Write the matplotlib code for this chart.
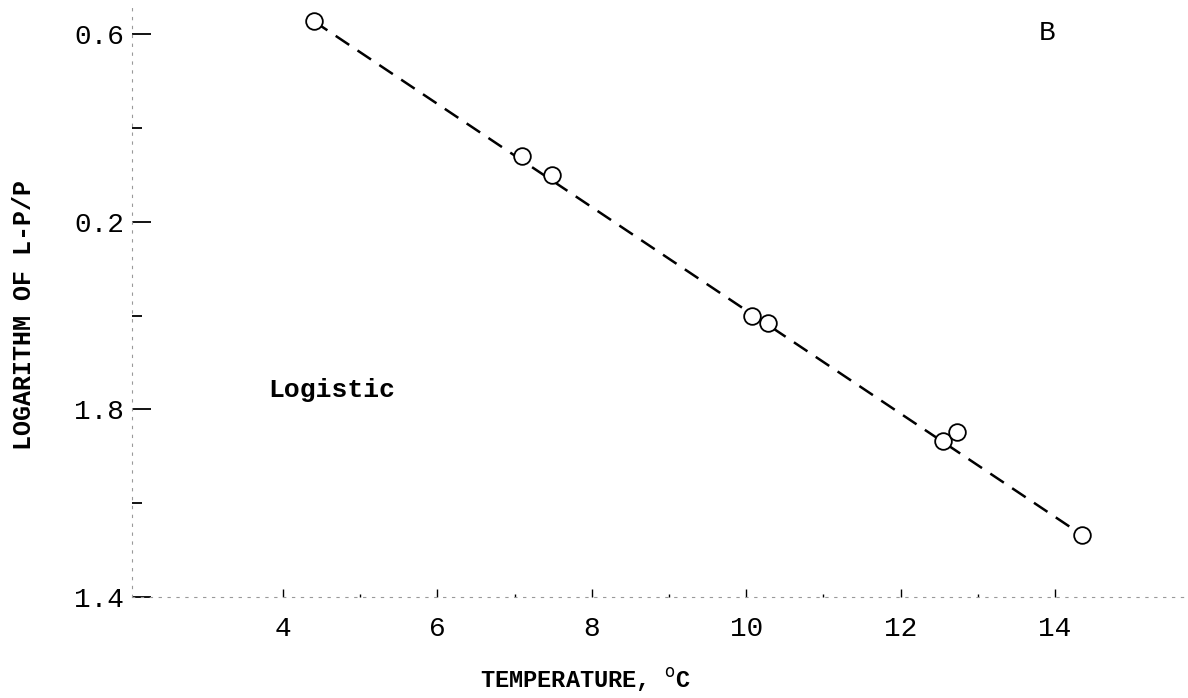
import numpy as np
import matplotlib
matplotlib.use("Agg")
import matplotlib.pyplot as plt
from matplotlib.ticker import FixedLocator

# valores
temperatura = [4.40, 7.10, 7.48, 10.08, 10.28, 12.55, 12.73, 14.35]
log_lpp = [0.628, 0.340, 0.301, -0.001, -0.016, -0.268, -0.249, -0.468]

# recta ajustada (extremos)
recta_x = [4.40, 14.35]
recta_y = [0.628, -0.468]

yticks_mayor = [0.6, 0.2, -0.2, -0.6]
yticks_etiq = ["0.6", "0.2", "1.8", "1.4"]
yticks_menor = [0.4, 0.0, -0.4]
xticks_mayor = [4, 6, 8, 10, 12, 14]
xticks_etiq = ["4", "6", "8", "10", "12", "14"]
xticks_menor = [5, 7, 9, 11, 13]

plt.rcParams['font.family'] = ['Liberation Mono', 'DejaVu Sans Mono']

fig = plt.figure(figsize=(11.88, 6.98), dpi=100)
ax = fig.add_axes([0.1115, 0.145, 0.887, 0.846])

ax.plot(recta_x, recta_y, color='black', lw=1.8, dashes=(6.5, 4), zorder=2)
ax.plot(temperatura, log_lpp, linestyle='none', marker='o', ms=12,
        mfc='white', mec='black', mew=1.3, zorder=3)

ax.set_xlim(2.05, 15.7)
ax.set_ylim(-0.6, 0.66)

ax.yaxis.set_major_locator(FixedLocator(yticks_mayor))
ax.set_yticklabels(yticks_etiq, fontsize=20)
ax.yaxis.set_minor_locator(FixedLocator(yticks_menor))
ax.xaxis.set_major_locator(FixedLocator(xticks_mayor))
ax.set_xticklabels(xticks_etiq, fontsize=20)
ax.xaxis.set_minor_locator(FixedLocator(xticks_menor))

ax.tick_params(axis='y', which='major', direction='in', length=14, width=1.3, pad=6)
ax.tick_params(axis='y', which='minor', direction='in', length=7, width=1.3)
ax.tick_params(axis='x', which='major', direction='in', length=6, width=1.0, pad=14)
ax.tick_params(axis='x', which='minor', direction='in', length=2, width=1.0)

for lado in ['top', 'right']:
    ax.spines[lado].set_visible(False)
for lado in ['left', 'bottom']:
    ax.spines[lado].set_color('#999999')
    ax.spines[lado].set_linewidth(0.8)
    ax.spines[lado].set_linestyle((0, (2, 6)))

ax.set_xlabel("TEMPERATURE, $^{\\mathrm{o}}$C", fontsize=17, fontweight='bold')
ax.xaxis.set_label_coords(0.43, -0.118)
ax.set_ylabel("LOGARITHM OF L-P/P", fontsize=18, fontweight='bold')
ax.yaxis.set_label_coords(-0.092, 0.477)

ax.text(3.81, -0.159, "Logistic", fontsize=19, fontweight='bold', ha='left', va='center')
ax.text(13.9, 0.604, "B", fontsize=20, ha='center', va='center')

plt.savefig("out.png", dpi=100)
plt.close()
